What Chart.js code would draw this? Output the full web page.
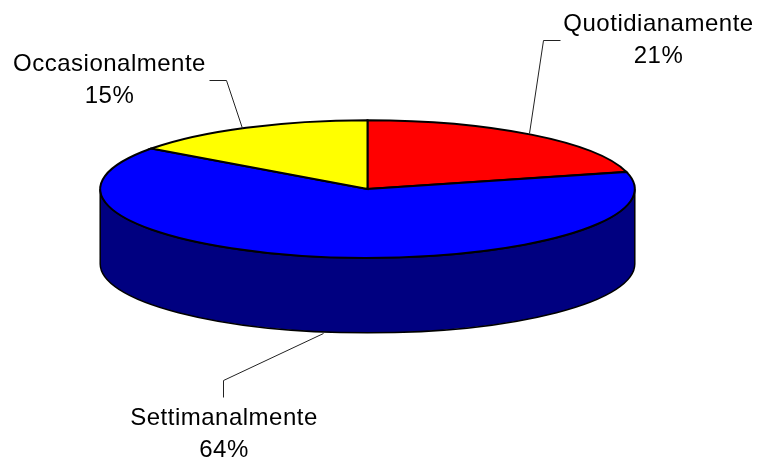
<!DOCTYPE html>
<html>
<head>
<meta charset="utf-8">
<style>
  html, body { margin: 0; padding: 0; background: #fff; }
  #wrap { width: 760px; height: 463px; }
</style>
<script src="https://cdn.jsdelivr.net/npm/chart.js@4"></script>
</head>
<body>
<div id="wrap"><canvas id="pie" width="760" height="463"></canvas></div>
<script>
var categories = ["Quotidianamente", "Settimanalmente", "Occasionalmente"];
var shares = [21, 64, 15];
var topColors = ["#ff0000", "#0000ff", "#ffff00"];
var sideColors = ["#800000", "#000080", "#808000"];

// where each label sits (text baseline), and the path of its leader line
var labelPlaces = [
  { x: 658.5, y: 31, line: [[560, 40], [543, 40], [529, 133]] },
  { x: 224, y: 425, line: [[223, 397], [223, 380], [323, 333]] },
  { x: 109.5, y: 71, line: [[209, 80], [226, 80], [242, 128]] }
];

var squashX = 268 / 189, squashY = 69 / 189, depth = 75;

function sliceSide(ctx, arc, color) {
  // only the part of a slice on the front half of the disc shows a wall
  var a = arc.startAngle, b = arc.endAngle, rx = arc.outerRadius * squashX, ry = arc.outerRadius * squashY;
  [[0, Math.PI], [2 * Math.PI, 3 * Math.PI]].forEach(function (half) {
    var s = Math.max(a, half[0]), e = Math.min(b, half[1]);
    if (s >= e) return;
    ctx.beginPath();
    ctx.ellipse(arc.x, arc.y, rx, ry, 0, s, e);
    ctx.ellipse(arc.x, arc.y + depth, rx, ry, 0, e, s, true);
    ctx.closePath();
    ctx.fillStyle = color;
    ctx.fill();
    ctx.strokeStyle = "#000";
    ctx.lineWidth = 1.5;
    ctx.stroke();
  });
}

function sliceTop(ctx, arc, color) {
  ctx.beginPath();
  ctx.moveTo(arc.x, arc.y);
  ctx.ellipse(arc.x, arc.y, arc.outerRadius * squashX, arc.outerRadius * squashY, 0, arc.startAngle, arc.endAngle);
  ctx.closePath();
  ctx.fillStyle = color;
  ctx.fill();
  ctx.strokeStyle = "#000";
  ctx.lineWidth = 2;
  ctx.stroke();
}

var flatPie = {
  id: "flatPie",
  beforeDatasetsDraw: function (chart) {
    var ctx = chart.ctx;
    var arcs = chart.getDatasetMeta(0).data;
    ctx.save();
    arcs.forEach(function (arc, i) { sliceSide(ctx, arc, sideColors[i]); });
    arcs.forEach(function (arc, i) { sliceTop(ctx, arc, topColors[i]); });

    ctx.font = '24px "Liberation Sans", Arial, sans-serif';
    ctx.letterSpacing = "0.5px";
    ctx.textAlign = "center";
    ctx.textBaseline = "alphabetic";
    labelPlaces.forEach(function (place, i) {
      ctx.beginPath();
      place.line.forEach(function (p, n) {
        if (n === 0) ctx.moveTo(p[0] + 0.5, p[1] + 0.5);
        else ctx.lineTo(p[0] + 0.5, p[1] + 0.5);
      });
      ctx.strokeStyle = "#222";
      ctx.lineWidth = 1;
      ctx.stroke();
      ctx.fillStyle = "#000";
      ctx.fillText(categories[i], place.x, place.y);
      ctx.fillText(shares[i] + "%", place.x, place.y + 32);
    });
    ctx.restore();
    return false;
  }
};

new Chart(document.getElementById("pie").getContext("2d"), {
  type: "pie",
  data: {
    labels: categories,
    datasets: [{ data: shares, backgroundColor: topColors, borderColor: "#000", borderWidth: 1 }]
  },
  options: {
    responsive: false,
    animation: false,
    layout: { padding: { left: 0, right: 25, top: 0, bottom: 85 } },
    plugins: { legend: { display: false }, tooltip: { enabled: false } }
  },
  plugins: [flatPie]
});
</script>
</body>
</html>
